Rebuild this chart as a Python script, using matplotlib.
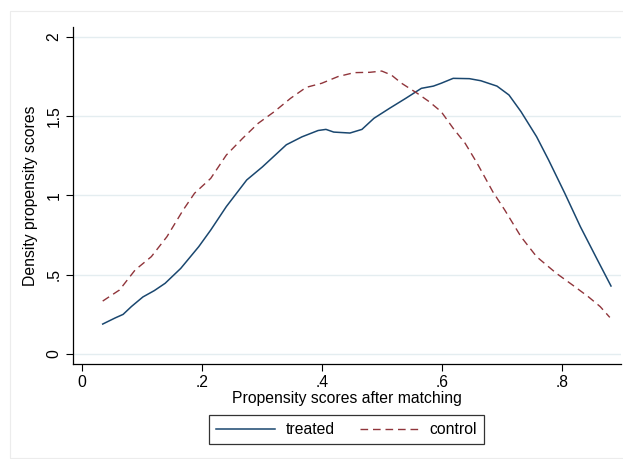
import matplotlib
matplotlib.use("Agg")
import matplotlib.pyplot as plt
from matplotlib.patches import Rectangle

plt.rcParams['font.family'] = ['Liberation Sans', 'DejaVu Sans']

# Data (kernel density estimates)
treated_x = [0.034, 0.055, 0.068, 0.082, 0.101, 0.120, 0.138, 0.164, 0.194, 0.214,
             0.240, 0.274, 0.300, 0.340, 0.366, 0.393, 0.406, 0.419, 0.446, 0.466,
             0.486, 0.512, 0.539, 0.565, 0.585, 0.598, 0.618, 0.645, 0.664, 0.691,
             0.711, 0.731, 0.757, 0.777, 0.804, 0.830, 0.857, 0.881]
treated_y = [0.189, 0.228, 0.250, 0.300, 0.360, 0.400, 0.446, 0.540, 0.677, 0.782,
             0.930, 1.098, 1.180, 1.320, 1.370, 1.410, 1.417, 1.400, 1.394, 1.417,
             1.487, 1.550, 1.613, 1.676, 1.690, 1.708, 1.739, 1.737, 1.724, 1.690,
             1.634, 1.529, 1.371, 1.224, 1.014, 0.803, 0.604, 0.429]

control_x = [0.034, 0.062, 0.088, 0.115, 0.141, 0.168, 0.187, 0.214, 0.240, 0.267,
             0.293, 0.320, 0.347, 0.373, 0.399, 0.426, 0.453, 0.479, 0.499, 0.515,
             0.532, 0.558, 0.578, 0.598, 0.618, 0.638, 0.658, 0.684, 0.704, 0.731,
             0.757, 0.790, 0.817, 0.843, 0.863, 0.879]
control_y = [0.334, 0.404, 0.530, 0.614, 0.740, 0.908, 1.014, 1.108, 1.255, 1.360,
             1.455, 1.529, 1.613, 1.682, 1.708, 1.750, 1.775, 1.777, 1.785, 1.760,
             1.708, 1.645, 1.592, 1.529, 1.424, 1.329, 1.203, 1.024, 0.908, 0.740,
             0.614, 0.509, 0.435, 0.362, 0.299, 0.231]

x_ticks = [0, 0.2, 0.4, 0.6, 0.8]
x_labels = ['0', '.2', '.4', '.6', '.8']
y_ticks = [0, 0.5, 1, 1.5, 2]
y_labels = ['0', '.5', '1', '1.5', '2']

fig = plt.figure(figsize=(6.23, 4.59), dpi=100)
fig.patch.set_facecolor('white')
# faint outer graph-region border
fig.patches.append(Rectangle((10/623, 1/459), 1.0, 1 - 12/459, transform=fig.transFigure,
                             fill=False, edgecolor='#ececec', linewidth=0.8))

ax = fig.add_axes([72.7/623, 1 - 364/459, (620.6 - 72.7)/623, (364 - 27.3)/459])
ax.set_facecolor('white')

ax.plot(treated_x, treated_y, color='#1a476f', linewidth=1.1, label='treated')
ax.plot(control_x, control_y, color='#90353b', linewidth=1.0, dashes=(5.5, 3.5),
        label='control')

ax.set_xlim(-0.016, 0.897)
ax.set_ylim(-0.063, 2.061)
ax.set_xticks(x_ticks)
ax.set_xticklabels(x_labels)
ax.set_yticks(y_ticks)
ax.set_yticklabels(y_labels, rotation=90, va='center')
ax.grid(axis='y', color='#e4edf0', linewidth=1.0)
ax.set_axisbelow(True)

for s in ['top', 'right']:
    ax.spines[s].set_visible(False)
for s in ['left', 'bottom']:
    ax.spines[s].set_color('black')
    ax.spines[s].set_linewidth(0.9)

ax.tick_params(axis='both', direction='out', length=5, width=0.8, labelsize=11.3,
               colors='black', pad=3)
ax.set_xlabel('Propensity scores after matching', fontsize=11.3, labelpad=1)
ax.set_ylabel('Density propensity scores', fontsize=11.3, labelpad=6)

leg = ax.legend(loc='upper center', bbox_to_anchor=(346.5/623, 1 - 415/459),
                bbox_transform=fig.transFigure, ncol=2, frameon=True, fancybox=False,
                fontsize=11.3, handlelength=3.8, handletextpad=0.65, columnspacing=1.6,
                borderpad=0.45, borderaxespad=0)
leg.get_frame().set_edgecolor('black')
leg.get_frame().set_linewidth(0.9)

fig.savefig('out.png', dpi=100)
